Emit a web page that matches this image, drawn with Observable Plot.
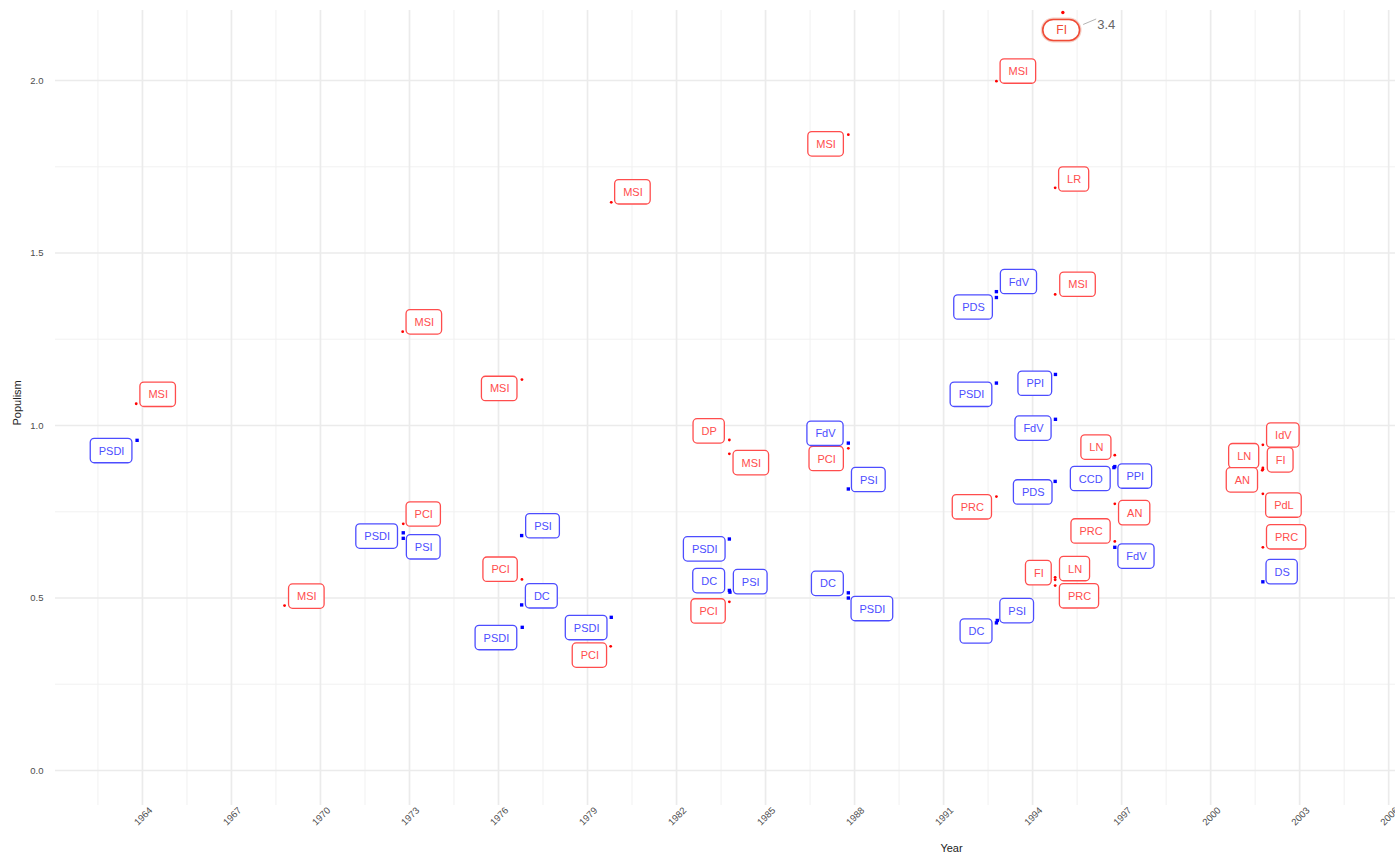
<!DOCTYPE html>
<html>
<head>
<meta charset="utf-8">
<script src="https://cdn.jsdelivr.net/npm/d3@7"></script>
<script src="https://cdn.jsdelivr.net/npm/@observablehq/plot@0.6"></script>
<style>
  html, body { margin: 0; padding: 0; background: #fff; overflow: hidden; }
</style>
</head>
<body>
<div id="chart"></div>
<script>
// ---- data ----
const parties = ["MSI","PSDI","MSI","MSI","PCI","PSDI","PSI","MSI","PSI","PCI","DC","PSDI",
  "MSI","PSDI","PCI","DP","MSI","PSDI","DC","PSI","PCI","MSI","FdV","PCI","PSI","DC","PSDI",
  "MSI","FdV","PDS","PSDI","PRC","PSI","DC","LR","MSI","PPI","FdV","PDS","FI","LN","PRC",
  "LN","CCD","PPI","AN","PRC","FdV","IdV","FI","LN","AN","PdL","PRC","DS"];
const camps = ["p","m","p","p","p","m","m","p","m","p","m","m",
  "p","m","p","p","p","m","m","m","p","p","m","p","m","m","m",
  "p","m","m","m","p","m","m","p","p","m","m","m","p","p","p",
  "p","m","m","p","p","m","p","p","p","p","p","p","m"];
const years = [1963.79,1963.82,1968.79,1972.77,1972.79,1972.79,1972.79,1976.79,1976.78,1976.79,1976.78,1976.80,
  1979.80,1979.80,1979.78,1983.78,1983.78,1983.78,1983.78,1983.80,1983.78,1987.79,1987.79,1987.79,1987.79,1987.79,1987.79,
  1992.78,1992.78,1992.78,1992.78,1992.78,1992.81,1992.78,1994.76,1994.76,1994.77,1994.77,1994.76,1994.76,1994.76,1994.76,
  1996.77,1996.74,1996.77,1996.77,1996.77,1996.77,2001.76,2001.76,2001.76,2001.74,2001.76,2001.76,2001.76];
const populism = [1.063,0.957,0.478,1.272,0.715,0.689,0.673,1.133,0.681,0.554,0.480,0.415,
  1.647,0.444,0.360,0.958,0.918,0.671,0.522,0.517,0.489,1.843,0.949,0.934,0.816,0.515,0.500,
  1.998,1.388,1.371,1.123,0.794,0.435,0.428,1.689,1.380,1.148,1.018,0.838,0.560,0.553,0.536,
  0.914,0.878,0.881,0.773,0.664,0.647,0.944,0.877,0.873,0.870,0.802,0.647,0.547];
// where the repelled labels sit (in data units)
const labelYears = [1964.53,1962.96,1969.54,1973.50,1973.48,1971.91,1973.48,1976.04,1977.50,1976.07,1977.46,1975.93,
  1980.53,1978.97,1979.08,1983.10,1984.52,1982.95,1983.10,1984.50,1983.08,1987.04,1987.02,1987.06,1988.48,1987.10,1988.60,
  1993.52,1993.54,1992.01,1991.94,1991.97,1993.48,1992.11,1995.40,1995.53,1994.09,1994.03,1994.02,1994.21,1995.43,1995.58,
  1996.15,1995.96,1997.46,1997.44,1995.97,1997.50,2002.45,2002.36,2001.13,2001.07,2002.47,2002.56,2002.41];
const labelPopulism = [1.089,0.926,0.504,1.299,0.742,0.678,0.647,1.106,0.708,0.582,0.505,0.384,
  1.676,0.413,0.333,0.983,0.891,0.641,0.549,0.546,0.461,1.815,0.976,0.903,0.842,0.541,0.468,
  2.026,1.416,1.342,1.089,0.763,0.462,0.403,1.713,1.408,1.121,0.991,0.806,0.572,0.584,0.505,
  0.936,0.845,0.852,0.746,0.693,0.620,0.971,0.899,0.911,0.841,0.768,0.676,0.575];

// off-scale observation (squished to the top of the panel)
const outParty = ["FI"];
const outYear = [1995.02];
const outPopulism = [3.4];
const outLabelYear = [1994.98];
const outLabelPopulism = [2.145];

// axes
const xTicks = [1964,1967,1970,1973,1976,1979,1982,1985,1988,1991,1994,1997,2000,2003,2006];
const xMinor = [1962.5,1965.5,1968.5,1971.5,1974.5,1977.5,1980.5,1983.5,1986.5,1989.5,1992.5,1995.5,1998.5,2001.5,2004.5];
const yTicks = [0,0.5,1.0,1.5,2.0];
const yMinor = [0.25,0.75,1.25,1.75];

// ---- layout ----
const W = 1395, H = 864, mL = 55, mR = 0, mT = 10, mB = 59;
const xDomain = [1961.07, 2006.23];
const yDomain = [-0.1014, 2.2029];
const yCap = 2.197;
const pxYear = (W - mL - mR) / (xDomain[1] - xDomain[0]);
const pxUnit = (H - mT - mB) / (yDomain[1] - yDomain[0]);
const FONT = "'Liberation Sans', Arial, Helvetica, sans-serif";

const RED_PT = "#ff0000", BLUE_PT = "#0000ff";
const RED_LB = "#ff4d4d", BLUE_LB = "#4d4dff";

const ctx = document.createElement("canvas").getContext("2d");
ctx.font = `11px ${FONT}`;

const rows = parties.map((p, i) => {
  const w = ctx.measureText(p).width + 16;
  return {
    party: p, camp: camps[i], year: years[i], pop: populism[i],
    lx: labelYears[i], ly: labelPopulism[i],
    x1: labelYears[i] - w / 2 / pxYear, x2: labelYears[i] + w / 2 / pxYear,
    y1: labelPopulism[i] - 12.2 / pxUnit, y2: labelPopulism[i] + 12.2 / pxUnit
  };
});
const red = rows.filter(d => d.camp === "p");
const blue = rows.filter(d => d.camp === "m");

const outRows = outParty.map((p, i) => {
  const w = ctx.measureText(p).width + 27;
  return {
    party: p, year: outYear[i], pop: Math.min(outPopulism[i], yCap), value: outPopulism[i],
    lx: outLabelYear[i], ly: outLabelPopulism[i],
    x1: outLabelYear[i] - w / 2 / pxYear, x2: outLabelYear[i] + w / 2 / pxYear,
    y1: outLabelPopulism[i] - 10.5 / pxUnit, y2: outLabelPopulism[i] + 10.5 / pxUnit,
    sx1: outLabelYear[i] + 21.5 / pxYear, sy1: outLabelPopulism[i] + 6 / pxUnit,
    sx2: outLabelYear[i] + 34.5 / pxYear, sy2: outLabelPopulism[i] + 11.5 / pxUnit
  };
});

const chart = Plot.plot({
  width: W, height: H,
  marginLeft: mL, marginRight: mR, marginTop: mT, marginBottom: mB,
  x: {domain: xDomain, axis: null},
  y: {domain: yDomain, axis: null},
  style: {fontFamily: FONT, background: "#fff", overflow: "hidden"},
  marks: [
    // grid
    Plot.ruleX(xMinor, {x: d => d, stroke: "#efefef", strokeWidth: 0.9}),
    Plot.ruleY(yMinor, {y: d => d, stroke: "#efefef", strokeWidth: 0.9}),
    Plot.ruleX(xTicks, {x: d => d, stroke: "#ebebeb", strokeWidth: 1.7}),
    Plot.ruleY(yTicks, {y: d => d, stroke: "#ebebeb", strokeWidth: 1.7}),
    // tick labels
    Plot.text(yTicks, {y: d => d, frameAnchor: "left", dx: -12, textAnchor: "end",
      text: d => d.toFixed(1), fill: "#4d4d4d", fontSize: 9.5}),
    Plot.text(xTicks, {x: d => d, frameAnchor: "bottom", dx: 3, dy: 13, rotate: -45,
      textAnchor: "middle", text: d => String(d), fill: "#4d4d4d", fontSize: 9.5}),
    // axis titles
    Plot.text(["Year"], {frameAnchor: "bottom", dx: 951 - (mL + W - mR) / 2, dy: 46,
      text: d => d, fill: "#222", fontSize: 11}),
    Plot.text(["Populism"], {frameAnchor: "left", dx: -38, dy: 17.5, rotate: -90,
      text: d => d, fill: "#222", fontSize: 11}),
    // points
    Plot.dot(red, {x: "year", y: "pop", r: 1.4, fill: RED_PT}),
    Plot.dot(blue, {x: "year", y: "pop", r: 1.9, symbol: "square", fill: BLUE_PT}),
    Plot.dot(outRows, {x: "year", y: "pop", r: 1.7, fill: RED_PT}),
    // labels
    Plot.rect(red, {x1: "x1", x2: "x2", y1: "y1", y2: "y2", fill: "#fff",
      stroke: RED_LB, strokeWidth: 1.3, rx: 4, ry: 4}),
    Plot.rect(blue, {x1: "x1", x2: "x2", y1: "y1", y2: "y2", fill: "#fff",
      stroke: BLUE_LB, strokeWidth: 1.3, rx: 4, ry: 4}),
    Plot.text(red, {x: "lx", y: "ly", text: "party", fill: RED_LB, fontSize: 11}),
    Plot.text(blue, {x: "lx", y: "ly", text: "party", fill: BLUE_LB, fontSize: 11}),
    // off-scale label and its value
    Plot.link(outRows, {x1: "sx1", y1: "sy1", x2: "sx2", y2: "sy2", stroke: "#aaa", strokeWidth: 0.9}),
    Plot.text(outRows, {x: "sx2", y: "sy2", dx: 1, dy: 6, textAnchor: "start",
      text: d => String(d.value), fill: "#666", fontSize: 13}),
    Plot.rect(outRows, {x1: "x1", x2: "x2", y1: "y1", y2: "y2", fill: "none",
      stroke: "#f5cfc6", strokeWidth: 4, rx: 10.5, ry: 10.5}),
    Plot.rect(outRows, {x1: "x1", x2: "x2", y1: "y1", y2: "y2", fill: "#fff",
      stroke: "#f04b36", strokeWidth: 1.6, rx: 10.5, ry: 10.5}),
    Plot.text(outRows, {x: "lx", y: "ly", text: "party", fill: "#f04b36", fontSize: 12})
  ]
});
document.getElementById("chart").appendChild(chart);
</script>
</body>
</html>
